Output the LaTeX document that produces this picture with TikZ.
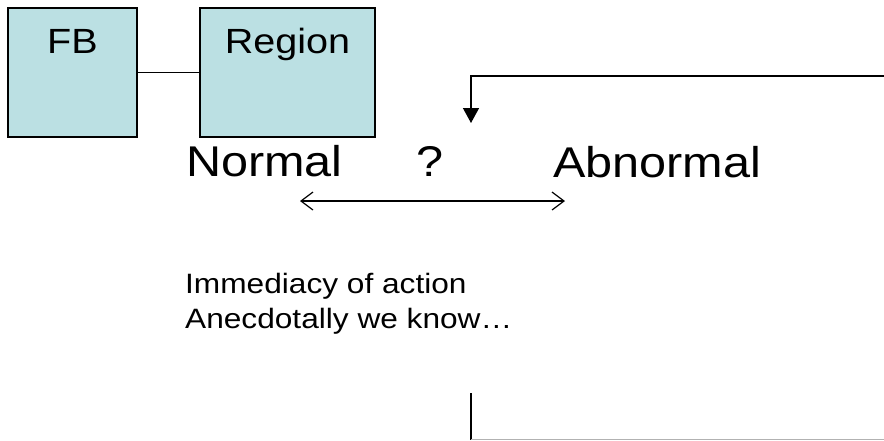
\documentclass[tikz,border=0pt]{standalone}
\usepackage{fontspec}
\setmainfont{Liberation Sans}[FakeStretch=1.13]
\usetikzlibrary{arrows.meta,calc}
\definecolor{boxfill}{RGB}{187,224,227}
\tikzset{
  box/.style={draw=black, line width=1.3pt, fill=boxfill, inner sep=0pt},
  boxtext/.style={font=\fontsize{35}{40}\selectfont, anchor=base, inner sep=0pt},
  bigtext/.style={font=\fontsize{43}{48}\selectfont, anchor=base west, inner sep=0pt},
  smalltext/.style={font=\fontsize{28}{35}\selectfont, anchor=base west, inner sep=0pt, align=left},
  conn/.style={line width=1.1pt},
  darrow/.style={line width=1.2pt, {Straight Barb[length=12pt,width=18pt]}-{Straight Barb[length=12pt,width=18pt]}},
  farrow/.style={line width=1.4pt, -{Triangle[length=15pt,width=16pt]}}
}
\begin{document}
\begin{tikzpicture}[x=1pt,y=1pt]
\useasboundingbox (0,0) rectangle (884,-440);
\node[box, minimum width=129pt, minimum height=129pt] (fb) at (72.5,-72.5) {};
\node[box, minimum width=175pt, minimum height=129pt] (region) at (287.5,-72.5) {};
\node[boxtext] (fbt) at (72.5,-53) {FB};
\node[boxtext] (regiont) at (287.5,-53) {Region};
\draw[conn] (fb.east) -- (region.west);

\node[bigtext] (normal) at (186,-176) {Normal};
\node[font=\fontsize{43}{48}\selectfont, anchor=base, inner sep=0pt] (q) at (430,-176) {?};
\node[bigtext] (abnormal) at (553,-177) {Abnormal};

\coordinate (dl) at (300,-201);
\coordinate (dr) at (565,-201);
\draw[darrow] (dl) -- (dr);

\coordinate (topR) at (886,-76);
\coordinate (topC) at (471,-76);
\coordinate (topT) at (471,-123);
\draw[farrow] (topR) -- (topC) -- (topT);

\node[smalltext] (txt) at (185,-328) {Immediacy of action\\Anecdotally we know…};

\coordinate (botA) at (471,-393);
\coordinate (botB) at (471,-440);
\coordinate (botC) at (886,-439.4);
\draw[line width=1.2pt] (botA) -- (botB);
\draw[line width=1pt, black!30] (botB |- botC) -- (botC);
\end{tikzpicture}
\end{document}
